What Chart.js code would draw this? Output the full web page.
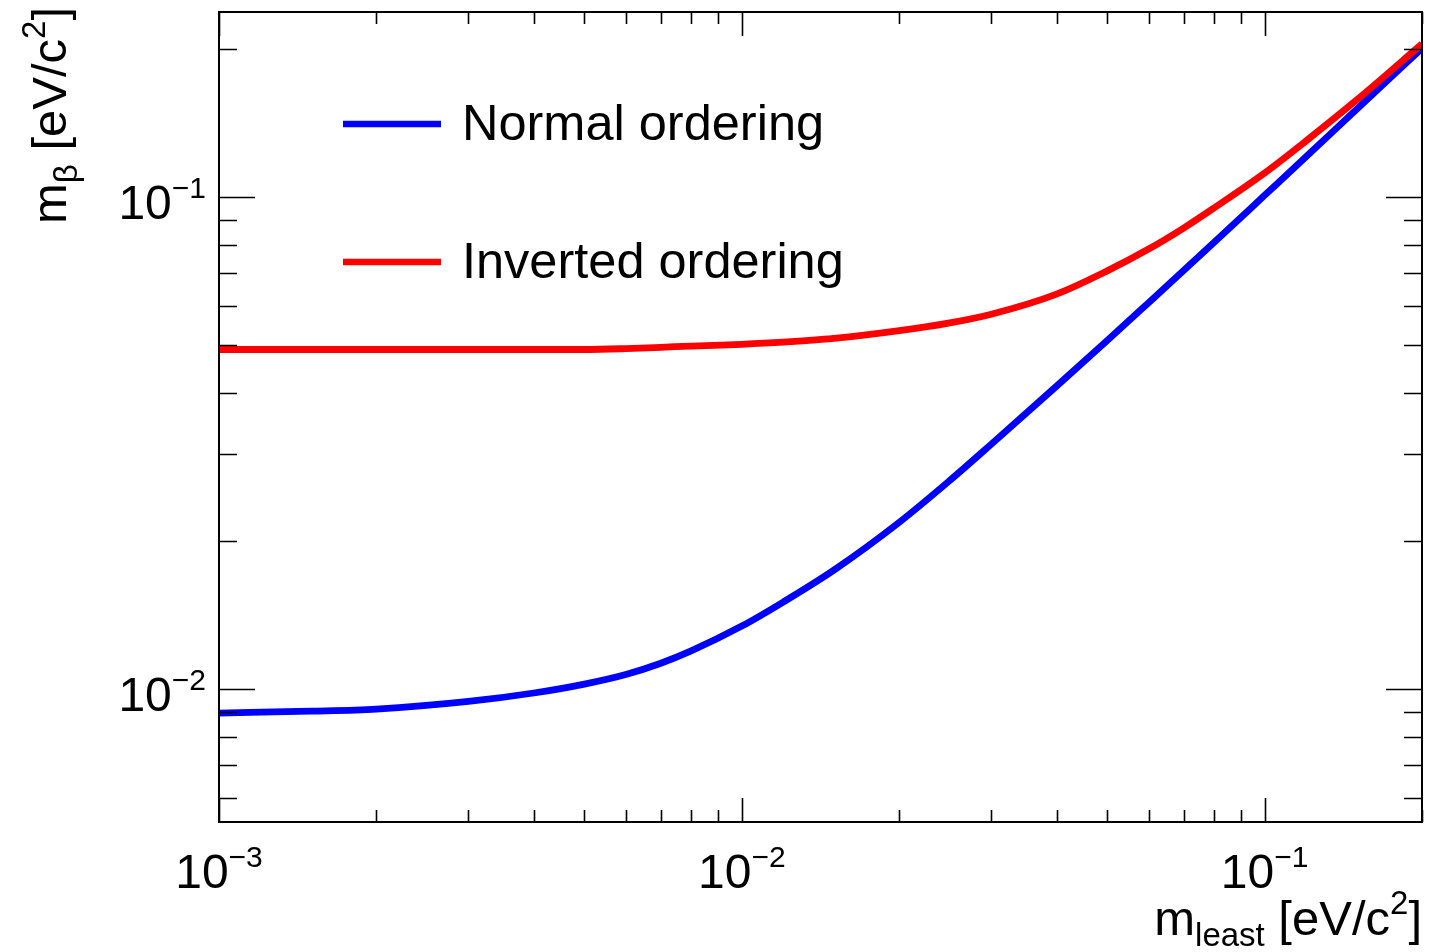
<!DOCTYPE html>
<html>
<head>
<meta charset="utf-8">
<title>Effective neutrino mass vs lightest mass</title>
<script src="https://cdn.jsdelivr.net/npm/chart.js@4.4.1/dist/chart.umd.min.js"></script>
<style>
  html, body { margin: 0; padding: 0; background: #ffffff; }
  #wrap { width: 1430px; height: 952px; position: relative; }
</style>
</head>
<body>
<div id="wrap"><canvas id="c" width="1430" height="952"></canvas></div>
<script>
// lightest neutrino mass m_least [eV/c^2]
const mLeast = [0.001, 0.0015, 0.002, 0.003, 0.004, 0.005, 0.006, 0.007, 0.008, 0.01,
                0.012, 0.015, 0.02, 0.025, 0.03, 0.04, 0.05, 0.06, 0.07, 0.08,
                0.1, 0.12, 0.15, 0.2];

// effective electron-neutrino mass m_beta [eV/c^2]
const normalOrdering = [0.00894, 0.00902, 0.00911, 0.00944, 0.00982, 0.01024, 0.01071, 0.01129, 0.01196, 0.01343,
                        0.01503, 0.01745, 0.02182, 0.02655, 0.03145, 0.04128, 0.05109, 0.0610, 0.07093, 0.08087,
                        0.1008, 0.1207, 0.1508, 0.2006];
const invertedOrdering = [0.0490, 0.0490, 0.0490, 0.0490, 0.0490, 0.0490, 0.0492, 0.0495, 0.0498, 0.0502,
                          0.0507, 0.0516, 0.0535, 0.0555, 0.0578, 0.0635, 0.0708, 0.0784, 0.0865, 0.0950,
                          0.1119, 0.1300, 0.1575, 0.2047];

const seriesNames = ['Normal ordering', 'Inverted ordering'];
const seriesColors = ['#0000ff', '#ff0000'];

// axis ranges and decade labels (10^exponent)
const xRange = [0.001, 0.2];
const yRange = [0.00537, 0.2377];
const xMajorTicks = [0.001, 0.01, 0.1];
const xTickExponents = ['\u22123', '\u22122', '\u22121'];
const yMajorTicks = [0.01, 0.1];
const yTickExponents = ['\u22122', '\u22121'];

const FONT = '"Liberation Sans", Arial, Helvetica, sans-serif';

function toPoints(xs, ys) {
  return xs.map((x, i) => ({ x: x, y: ys[i] }));
}

// minor ticks 2..9 x 10^n inside [lo, hi]
function minorTicks(lo, hi) {
  const out = [];
  for (let e = Math.floor(Math.log10(lo)); e <= Math.ceil(Math.log10(hi)); e++) {
    for (let k = 2; k <= 9; k++) {
      const v = k * Math.pow(10, e);
      if (v >= lo * 0.9999 && v <= hi * 1.0001) out.push(v);
    }
  }
  return out;
}

// draws "10" followed by a raised exponent
function drawPower(ctx, exp, x, y, align) {
  const baseFont = '48px ' + FONT;
  const supFont = '30px ' + FONT;
  ctx.font = baseFont;
  const wb = ctx.measureText('10').width;
  ctx.font = supFont;
  const we = ctx.measureText(exp).width;
  const total = wb + we;
  let x0 = x;
  if (align === 'center') x0 = x - total / 2;
  else if (align === 'right') x0 = x - total;
  ctx.textAlign = 'left';
  ctx.textBaseline = 'alphabetic';
  ctx.font = baseFont;
  ctx.fillText('10', x0, y);
  ctx.font = supFont;
  ctx.fillText(exp, x0 + wb, y - 21);
}

// text made of runs: {t, size, dy}
function drawRuns(ctx, runs, x, y, align) {
  let total = 0;
  runs.forEach(r => { ctx.font = r.size + 'px ' + FONT; r.w = ctx.measureText(r.t).width; total += r.w; });
  let cx = align === 'right' ? x - total : x;
  ctx.textAlign = 'left';
  ctx.textBaseline = 'alphabetic';
  runs.forEach(r => {
    ctx.font = r.size + 'px ' + FONT;
    ctx.fillText(r.t, cx, y + (r.dy || 0));
    cx += r.w;
  });
}

const framePlugin = {
  id: 'rootFrame',
  afterDatasetsDraw(chart) {
    const ctx = chart.ctx;
    const xs = chart.scales.x, ys = chart.scales.y;
    const a = chart.chartArea;
    ctx.save();
    ctx.strokeStyle = '#000';
    ctx.fillStyle = '#000';

    // frame
    ctx.lineWidth = 2;
    ctx.strokeRect(a.left, a.top, a.right - a.left, a.bottom - a.top);

    // x ticks (bottom and top, pointing inward)
    ctx.lineWidth = 1.6;
    ctx.beginPath();
    const xMinor = minorTicks(xRange[0], xRange[1]);
    xMajorTicks.forEach(v => {
      const px = Math.round(xs.getPixelForValue(v)) + 0.5;
      ctx.moveTo(px, a.bottom); ctx.lineTo(px, a.bottom - 24);
      ctx.moveTo(px, a.top); ctx.lineTo(px, a.top + 24);
    });
    xMinor.forEach(v => {
      const px = Math.round(xs.getPixelForValue(v)) + 0.5;
      ctx.moveTo(px, a.bottom); ctx.lineTo(px, a.bottom - 12);
      ctx.moveTo(px, a.top); ctx.lineTo(px, a.top + 12);
    });
    // y ticks (left and right)
    const yMinor = minorTicks(yRange[0], yRange[1]);
    yMajorTicks.forEach(v => {
      const py = Math.round(ys.getPixelForValue(v)) + 0.5;
      ctx.moveTo(a.left, py); ctx.lineTo(a.left + 36, py);
      ctx.moveTo(a.right, py); ctx.lineTo(a.right - 36, py);
    });
    yMinor.forEach(v => {
      const py = Math.round(ys.getPixelForValue(v)) + 0.5;
      ctx.moveTo(a.left, py); ctx.lineTo(a.left + 18, py);
      ctx.moveTo(a.right, py); ctx.lineTo(a.right - 18, py);
    });
    ctx.stroke();

    // tick labels
    xMajorTicks.forEach((v, i) => {
      drawPower(ctx, xTickExponents[i], xs.getPixelForValue(v), a.bottom + 66, 'center');
    });
    yMajorTicks.forEach((v, i) => {
      drawPower(ctx, yTickExponents[i], a.left - 13, ys.getPixelForValue(v) + 22, 'right');
    });

    // x axis title
    drawRuns(ctx, [
      { t: 'm', size: 49 },
      { t: 'least', size: 33, dy: 11 },
      { t: ' [eV/c', size: 49 },
      { t: '2', size: 33, dy: -21 },
      { t: ']', size: 49 }
    ], a.right, 935, 'right');

    // y axis title (rotated)
    ctx.save();
    ctx.translate(66, 224);
    ctx.rotate(-Math.PI / 2);
    drawRuns(ctx, [
      { t: 'm', size: 49 },
      { t: 'β', size: 33, dy: 11 },
      { t: ' [eV/c', size: 49 },
      { t: '2', size: 33, dy: -21 },
      { t: ']', size: 49 }
    ], 0, 0, 'left');
    ctx.restore();

    // legend
    const legendRows = [124, 262];
    seriesNames.forEach((name, i) => {
      const yy = legendRows[i];
      ctx.strokeStyle = seriesColors[i];
      ctx.lineWidth = 6.5;
      ctx.beginPath();
      ctx.moveTo(343, yy);
      ctx.lineTo(441, yy);
      ctx.stroke();
      ctx.fillStyle = '#000';
      ctx.font = '50.5px ' + FONT;
      ctx.textAlign = 'left';
      ctx.textBaseline = 'alphabetic';
      ctx.fillText(name, 462, yy + 16);
    });
    ctx.restore();
  }
};

new Chart(document.getElementById('c'), {
  type: 'line',
  data: {
    datasets: [
      {
        label: seriesNames[0],
        data: toPoints(mLeast, normalOrdering),
        borderColor: seriesColors[0],
        borderWidth: 6.8,
        pointRadius: 0,
        cubicInterpolationMode: 'monotone',
        fill: false,
        order: 1
      },
      {
        label: seriesNames[1],
        data: toPoints(mLeast, invertedOrdering),
        borderColor: seriesColors[1],
        borderWidth: 6.8,
        pointRadius: 0,
        cubicInterpolationMode: 'monotone',
        fill: false,
        order: 0
      }
    ]
  },
  options: {
    responsive: false,
    animation: false,
    devicePixelRatio: 1,
    layout: { padding: { left: 219, right: 8, top: 12, bottom: 130 } },
    plugins: { legend: { display: false }, tooltip: { enabled: false } },
    scales: {
      x: { type: 'logarithmic', min: xRange[0], max: xRange[1], display: false },
      y: { type: 'logarithmic', min: yRange[0], max: yRange[1], display: false }
    }
  },
  plugins: [framePlugin]
});
</script>
</body>
</html>
